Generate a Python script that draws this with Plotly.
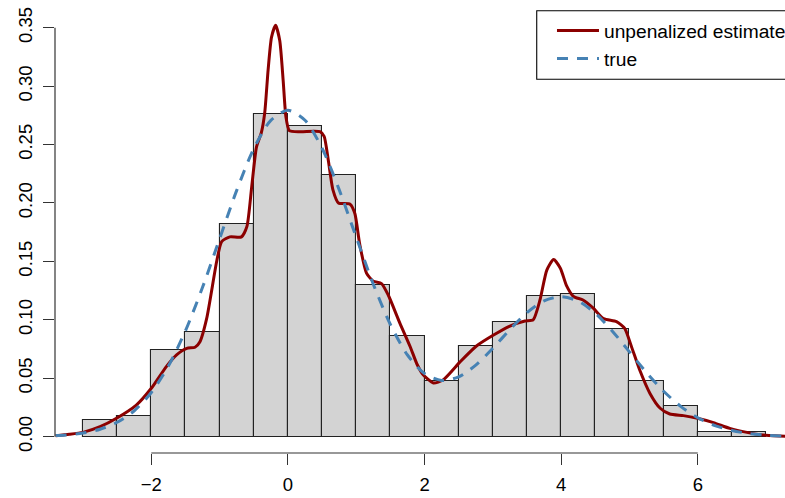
import plotly.graph_objects as go

# Histogram (density scale), bins of width 0.5 from -3 to 7
bin_left = [-3.0, -2.5, -2.0, -1.5, -1.0, -0.5, 0.0, 0.5, 1.0, 1.5,
            2.0, 2.5, 3.0, 3.5, 4.0, 4.5, 5.0, 5.5, 6.0, 6.5]
bin_width = 0.5
density = [0.014, 0.018, 0.074, 0.090, 0.182, 0.276, 0.266, 0.224, 0.130, 0.086,
           0.048, 0.078, 0.098, 0.120, 0.122, 0.092, 0.048, 0.026, 0.004, 0.004]

# Unpenalized estimate
est_x = [-3.40, -3.20, -3.00, -2.75, -2.51, -2.22, -2.00, -1.78, -1.63, -1.48,
         -1.36, -1.29, -1.19, -1.04, -0.97, -0.85, -0.68, -0.60, -0.53, -0.46,
         -0.39, -0.34, -0.29, -0.24, -0.18, -0.12, -0.07, -0.03, 0.02, 0.18,
         0.47, 0.53, 0.59, 0.66, 0.74, 0.91, 0.98, 1.05, 1.15, 1.25,
         1.37, 1.47, 1.64, 1.79, 1.89, 1.98, 2.13, 2.27, 2.52, 2.76,
         3.01, 3.25, 3.47, 3.59, 3.69, 3.79, 3.89, 3.99, 4.08, 4.18,
         4.32, 4.47, 4.62, 4.81, 4.93, 5.03, 5.15, 5.30, 5.45, 5.59,
         5.79, 5.98, 6.23, 6.47, 6.72, 6.96, 7.20, 7.40]
est_y = [0.0008, 0.0020, 0.0037, 0.0085, 0.0157, 0.0270, 0.0414, 0.0600, 0.0700, 0.0756,
         0.0765, 0.0810, 0.1010, 0.1510, 0.1670, 0.1710, 0.1710, 0.1800, 0.2140, 0.2480,
         0.2600, 0.2770, 0.3140, 0.3420, 0.3520, 0.3390, 0.3050, 0.2740, 0.2620, 0.2610,
         0.2610, 0.2570, 0.2370, 0.2110, 0.2000, 0.1990, 0.1910, 0.1650, 0.1400, 0.1330,
         0.1310, 0.1210, 0.0970, 0.0770, 0.0620, 0.0530, 0.0460, 0.0485, 0.0640, 0.0776,
         0.0870, 0.0947, 0.0990, 0.1000, 0.1170, 0.1426, 0.1517, 0.1440, 0.1290, 0.1200,
         0.1170, 0.1100, 0.1010, 0.0984, 0.0927, 0.0770, 0.0570, 0.0370, 0.0243, 0.0194,
         0.0180, 0.0160, 0.0120, 0.0071, 0.0037, 0.0014, 0.0006, 0.0002]

# True density
true_x = [-3.40, -3.25, -3.00, -2.75, -2.50, -2.25, -2.00, -1.75, -1.50, -1.25,
          -1.00, -0.75, -0.50, -0.25, 0.00, 0.25, 0.50, 0.75, 1.00, 1.25,
          1.50, 1.75, 2.00, 2.25, 2.50, 2.75, 3.00, 3.25, 3.50, 3.75,
          4.00, 4.25, 4.50, 4.75, 5.00, 5.25, 5.50, 5.75, 6.00, 6.25,
          6.50, 6.75, 7.00, 7.25]
true_y = [0.0009, 0.0014, 0.0031, 0.0064, 0.0123, 0.0222, 0.0378, 0.0604, 0.0907, 0.1278,
          0.1694, 0.2108, 0.2465, 0.2707, 0.2793, 0.2708, 0.2468, 0.2114, 0.1707, 0.1305,
          0.0960, 0.0699, 0.0540, 0.0481, 0.0512, 0.0612, 0.0757, 0.0917, 0.1062, 0.1163,
          0.1198, 0.1160, 0.1056, 0.0903, 0.0726, 0.0548, 0.0389, 0.0259, 0.0162, 0.0095,
          0.0053, 0.0027, 0.0013, 0.0006]

x_ticks = [-2, 0, 2, 4, 6]
y_ticks = [0.00, 0.05, 0.10, 0.15, 0.20, 0.25, 0.30, 0.35]

FONT = "Liberation Sans, Arial, Helvetica, sans-serif"
FS = 18.5
LFS = 19.2
AX = "#333333"

fig = go.Figure()
fig.add_trace(go.Bar(
    x=[b + bin_width / 2 for b in bin_left], y=density, width=bin_width,
    marker=dict(color="#D3D3D3", line=dict(color="#222222", width=1.1)),
    showlegend=False, hoverinfo="skip"))
fig.add_trace(go.Scatter(
    x=est_x, y=est_y, mode="lines", name="unpenalized estimate",
    line=dict(color="#8B0000", width=3, shape="spline", smoothing=0.6)))
fig.add_trace(go.Scatter(
    x=true_x, y=true_y, mode="lines", name="true",
    line=dict(color="#4682B4", width=3, dash="11px,9px", shape="spline", smoothing=0.8)))

# R-style axis lines spanning only the tick range
fig.add_shape(type="line", xref="x", yref="paper", x0=x_ticks[0], x1=x_ticks[-1],
              y0=0, y1=0, line=dict(color=AX, width=1.2))
fig.add_shape(type="line", xref="paper", yref="y", x0=0, x1=0,
              y0=y_ticks[0], y1=y_ticks[-1], line=dict(color=AX, width=1.2))
# Legend box
fig.add_shape(type="rect", xref="paper", yref="paper", x0=0.6599, x1=1.08,
              y0=0.8455, y1=1.0005, line=dict(color="#000000", width=1.1),
              fillcolor="rgba(0,0,0,0)")

fig.update_layout(
    width=785, height=498,
    margin=dict(l=55, r=0, t=11, b=45, autoexpand=False),
    plot_bgcolor="white", paper_bgcolor="white",
    font=dict(family=FONT, size=FS, color="#000000"),
    bargap=0,
    showlegend=True,
    legend=dict(x=0.6808, y=0.999, xanchor="left", yanchor="top",
                bgcolor="rgba(0,0,0,0)", borderwidth=0,
                font=dict(family=FONT, size=LFS), itemwidth=42,
                tracegroupgap=0),
    xaxis=dict(range=[-3.41, 7.277], tickvals=x_ticks, ticks="outside", ticklen=11,
               tickcolor=AX, tickwidth=1.2, showgrid=False, zeroline=False,
               showline=False, tickfont=dict(size=FS), ticklabelstandoff=4),
    yaxis=dict(range=[-0.01397, 0.3643], tickvals=y_ticks, tickformat=".2f",
               ticks="outside", ticklen=11, tickcolor=AX, tickwidth=1.2,
               showgrid=False, zeroline=False, showline=False, tickangle=-90,
               tickfont=dict(size=FS), ticklabelstandoff=4),
)

fig.write_html("out.html")
